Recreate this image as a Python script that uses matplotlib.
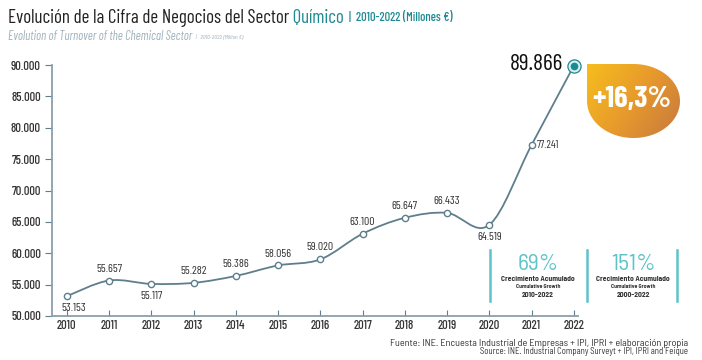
import numpy as np
import matplotlib
matplotlib.use('Agg')
import matplotlib.pyplot as plt
from matplotlib.path import Path
from matplotlib.patches import PathPatch
from matplotlib.lines import Line2D
from matplotlib.colors import LinearSegmentedColormap

years = [2010, 2011, 2012, 2013, 2014, 2015, 2016, 2017, 2018, 2019, 2020, 2021, 2022]
turnover = [53153, 55657, 55117, 55282, 56386, 58056, 59020, 63100, 65647, 66433, 64519, 77241, 89866]
value_labels = ['53.153', '55.657', '55.117', '55.282', '56.386', '58.056', '59.020',
                '63.100', '65.647', '66.433', '64.519', '77.241', '89.866']
label_side = ['below', 'above', 'below', 'above', 'above', 'above', 'above',
              'above', 'above', 'above', 'below', 'right', 'big']
y_ticks = [50000, 55000, 60000, 65000, 70000, 75000, 80000, 85000, 90000]
y_tick_labels = ['50.000', '55.000', '60.000', '65.000', '70.000', '75.000', '80.000', '85.000', '90.000']

COND = ['Barlow Semi Condensed', 'Roboto Condensed', 'DejaVu Sans']
NARROW = ['Barlow Condensed', 'Roboto Condensed', 'DejaVu Sans']
LINE = '#5f7e8c'
TEAL = '#1d8a92'
LTEAL = '#5ec3c9'
DARK = '#333333'

fig = plt.figure(figsize=(7.02, 3.6), dpi=100)
W, H = 702, 360
ax = fig.add_axes([52 / W, 1 - 316 / H, (578 - 52) / W, (316 - 65) / H])

# smooth line through the points (Catmull-Rom as cubic Bezier)
x = np.array(years, dtype=float)
y = np.array(turnover, dtype=float)
verts = [(x[0], y[0])]
codes = [Path.MOVETO]
for i in range(len(x) - 1):
    p0 = (x[max(i - 1, 0)], y[max(i - 1, 0)])
    p1 = (x[i], y[i])
    p2 = (x[i + 1], y[i + 1])
    p3 = (x[min(i + 2, len(x) - 1)], y[min(i + 2, len(x) - 1)])
    c1 = (p1[0] + (p2[0] - p0[0]) / 6, p1[1] + (p2[1] - p0[1]) / 6)
    c2 = (p2[0] - (p3[0] - p1[0]) / 6, p2[1] - (p3[1] - p1[1]) / 6)
    verts += [c1, c2, p2]
    codes += [Path.CURVE4] * 3
ax.add_patch(PathPatch(Path(verts, codes), fill=False, edgecolor=LINE, lw=1.3, clip_on=False))

ax.plot(years[:-1], turnover[:-1], 'o', ms=4.5, mfc='white', mec=LINE, mew=1.0, zorder=3)
ax.plot(years[-1], turnover[-1], 'o', ms=9.5, mfc='#d9efef', mec=TEAL, mew=0.9, zorder=3, clip_on=False)
ax.plot(years[-1], turnover[-1], 'o', ms=4.5, mfc=TEAL, mec=TEAL, zorder=4, clip_on=False)

for xi, yi, lab, side in zip(years, turnover, value_labels, label_side):
    if side == 'above':
        ax.annotate(lab, (xi, yi), xytext=(0, 5), textcoords='offset points',
                    ha='center', va='bottom', fontsize=8.5, color=DARK, family=NARROW)
    elif side == 'below':
        ax.annotate(lab, (xi, yi), xytext=(5 if xi == 2010 else 0, -5), textcoords='offset points',
                    ha='center', va='top', fontsize=8.5, color=DARK, family=NARROW)
    elif side == 'right':
        ax.annotate(lab, (xi, yi), xytext=(4, 0), textcoords='offset points',
                    ha='left', va='center', fontsize=8, color=DARK, family=NARROW)
    else:
        ax.annotate(lab, (xi, yi), xytext=(-8, 1), textcoords='offset points',
                    ha='right', va='center', fontsize=17, color='#111111', family=NARROW)

ax.set_xlim(2009.65, 2022.1)
ax.set_ylim(50000, 90000)
ax.set_xticks(years)
ax.set_xticklabels([str(v) for v in years], family=NARROW, fontsize=9, color=DARK, weight='medium')
ax.set_yticks(y_ticks)
ax.set_yticklabels(y_tick_labels, family=NARROW, fontsize=9, color=DARK, weight='medium')
ax.tick_params(axis='y', direction='out', length=5, color=LINE, pad=3)
ax.tick_params(axis='x', direction='in', length=4, color=LINE, pad=3)
for s in ['top', 'right']:
    ax.spines[s].set_visible(False)
for s in ['left', 'bottom']:
    ax.spines[s].set_color('#8aa0ab')
    ax.spines[s].set_linewidth(1.3)

# title
t1 = fig.text(8 / W, 1 - 18 / H, 'Evolución de la Cifra de Negocios del Sector', fontsize=13.6,
              color='#222222', family=NARROW, va='center')
t2 = fig.add_artist(plt.Annotation(' Químico', xy=(1, 0.5), xycoords=t1, va='center', ha='left',
                                   fontsize=13.6, color=TEAL, family=NARROW))
fig.add_artist(plt.Annotation('  |  2010-2022 (Millones €)', xy=(1, 0.5), xycoords=t2, va='center',
                              ha='left', fontsize=9, color=TEAL, family=NARROW, weight='medium'))
s1 = fig.text(8 / W, 1 - 37 / H, 'Evolution of Turnover of the Chemical Sector', fontsize=9,
              color='#9fb1bd', style='italic', family=NARROW, va='center')
fig.add_artist(plt.Annotation('   |   2010-2022 (Million €)', xy=(1, 0.5), xycoords=s1, va='center',
                              ha='left', fontsize=4.5, color='#9fb1bd', style='italic', family=NARROW))

# growth boxes
for px in [490, 587, 677]:
    fig.add_artist(Line2D([px / W, px / W], [1 - 250 / H, 1 - 301 / H], color=LTEAL, lw=1.8))
for cx, pct, period in [(538, '69%', '2010-2022'), (633, '151%', '2000-2022')]:
    fig.text(cx / W, 1 - 264 / H, pct, fontsize=17, color=LTEAL, family=COND, ha='center', va='center')
    fig.text(cx / W, 1 - 279 / H, 'Crecimiento Acumulado', fontsize=5.5, color=DARK,
             family=COND, weight='bold', ha='center', va='center')
    fig.text(cx / W, 1 - 287 / H, 'Cumulative Growth', fontsize=4.2, color=DARK,
             family=COND, weight='bold', ha='center', va='center')
    fig.text(cx / W, 1 - 295 / H, period, fontsize=5.5, color=DARK,
             family=COND, weight='bold', ha='center', va='center')

# +16,3% drop
dax = fig.add_axes([587 / W, 1 - 138 / H, 93 / W, 74 / H])
dax.set_xlim(0, 1)
dax.set_ylim(0, 1)
dax.axis('off')
t = np.linspace(np.pi / 2, -np.pi, 80)
dverts = [(0, 1)] + [(0.5 + 0.5 * np.cos(a), 0.5 + 0.5 * np.sin(a)) for a in t] + [(0, 1)]
dpath = Path(dverts)
gx, gy = np.meshgrid(np.linspace(0, 1, 100), np.linspace(1, 0, 80))
grad = 0.65 * gx + 0.35 * (1 - gy)
cmap = LinearSegmentedColormap.from_list('drop', ['#f6bd1e', '#e79a2c', '#c7783f'])
im = dax.imshow(grad, cmap=cmap, extent=(0, 1, 0, 1), aspect='auto')
clip = PathPatch(dpath, transform=dax.transAxes, facecolor='none', edgecolor='none')
dax.add_patch(clip)
im.set_clip_path(clip)
dax.text(0.48, 0.52, '+16,3%', fontsize=22, color='white', weight='bold', family=NARROW,
         ha='center', va='center')

# source
fig.text(688 / W, 1 - 343 / H, 'Fuente: INE. Encuesta Industrial de Empresas + IPI, IPRI + elaboración propia',
         fontsize=7.3, color=DARK, family=COND, ha='right', va='center')
fig.text(688 / W, 1 - 351 / H, 'Source: INE. Industrial Company Surveyt + IPI, IPRI and Feique',
         fontsize=6.3, color=DARK, family=COND, ha='right', va='center')

fig.savefig('out.png', dpi=100)
